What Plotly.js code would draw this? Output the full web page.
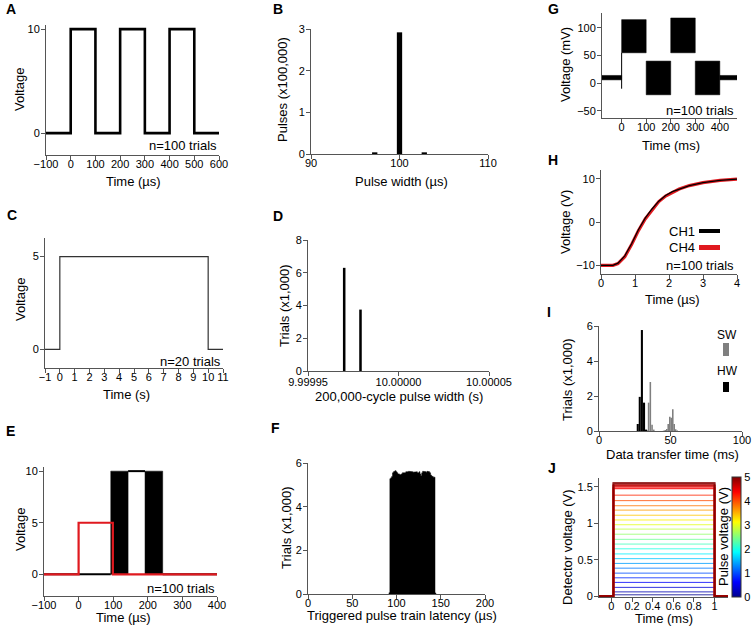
<!DOCTYPE html>
<html>
<head>
<meta charset="utf-8">
<script src="https://cdn.plot.ly/plotly-3.0.1.min.js"></script>
<style>
  html, body { margin: 0; padding: 0; background: #fff; }
  #fig { width: 756px; height: 627px; }
</style>
</head>
<body>
<div id="fig"></div>
<script>
// -- Data ---------------------------------------------------------------------

// A: 3-pulse train, 100 trials overlaid
var A_TIME = [-100, 0, 0, 100, 100, 200, 200, 300, 300, 400, 400, 500, 500, 600];
var A_VOLT = [0, 0, 10, 10, 0, 0, 10, 10, 0, 0, 10, 10, 0, 0];

// B: pulse width histogram
var B_WIDTH_US = [97.2, 100, 102.8];
var B_PULSES = [0.04, 2.92, 0.04];

// C: 10 s pulse, 20 trials
var C_TIME = [-1, 0, 0, 10, 10, 11];
var C_VOLT = [0, 0, 5, 5, 0, 0];

// D: 200,000-cycle pulse width
var D_WIDTH_S = [9.99997, 9.999979];
var D_TRIALS = [6.3, 3.75];

// E: trigger (red) and triggered output (black)
var E_TRIG_TIME = [-100, 0, 0, 99, 99, 400];
var E_TRIG_VOLT = [0, 0, 5, 5, 0, 0];
var E_OUT_RISE = [93, 143];   // earliest / latest rising edge over trials
var E_OUT_FALL = [192, 243];  // earliest / latest falling edge
var E_OUT_HIGH = 10;

// F: triggered pulse train latency histogram (1 µs bins)
var F_LATENCY = [92, 93, 94, 95, 96, 97, 98, 99, 100, 101, 102, 103, 104, 105, 106, 107, 108,
  109, 110, 111, 112, 113, 114, 115, 116, 117, 118, 119, 120, 121, 122, 123, 124, 125, 126,
  127, 128, 129, 130, 131, 132, 133, 134, 135, 136, 137, 138, 139, 140, 141, 142, 143, 144];
var F_TRIALS = [0.06, 5.28, 5.32, 5.38, 5.55, 5.6, 5.62, 5.65, 5.6, 5.55, 5.5, 5.5, 5.45,
  5.48, 5.5, 5.55, 5.55, 5.58, 5.55, 5.6, 5.58, 5.6, 5.62, 5.6, 5.6, 5.62, 5.6, 5.58, 5.6,
  5.6, 5.58, 5.6, 5.55, 5.55, 5.6, 5.5, 5.42, 5.55, 5.62, 5.6, 5.62, 5.6, 5.58, 5.62, 5.6,
  5.6, 5.55, 5.45, 5.4, 5.38, 5.35, 5.35, 0.05];
var F_BIN = 1;

// G: noisy analog output, envelope per segment (mV)
var G_SEG_START = [-80, 0, 100, 200, 300, 400];
var G_SEG_END = [0, 100, 200, 300, 400, 470];
var G_SEG_LOW = [6, 55, -21, 55, -21, 6];
var G_SEG_HIGH = [14, 115, 40, 118, 40, 14];
var G_ONSET_DIP = -10;

// H: rise of two channels
var H_TIME = [0, 0.35, 0.5, 0.7, 0.9, 1.1, 1.3, 1.5, 1.7, 1.9, 2.1, 2.3, 2.6, 3.0, 3.5, 4.0];
var H_CH1 = [-10, -10, -9.5, -7.8, -5.0, -1.8, 0.9, 3.0, 4.8, 6.1, 7.0, 7.6, 8.4, 9.1, 9.6, 9.9];
var H_CH4 = [-10, -10, -9.6, -8.0, -5.2, -2.0, 0.7, 2.8, 4.7, 6.0, 6.9, 7.6, 8.4, 9.1, 9.6, 9.9];

// I: data transfer time histograms
var I_HW_TIME = [27.1, 28.5, 30.0, 31.5, 32.9];
var I_HW_TRIALS = [0.4, 1.95, 5.77, 1.62, 0.08];
var I_SW_TIME = [33.5, 34.7, 35.9, 37.1, 38.3, 45.2, 46.3, 47.4, 48.4, 49.5, 50.5, 51.6, 52.6, 53.6, 54.7];
var I_SW_TRIALS = [0.05, 1.62, 2.8, 0.35, 0.08, 0.02, 0.05, 0.12, 0.4, 0.82, 0.75, 1.24, 0.4, 0.1, 0.03];

// J: detector voltage per pulse voltage
var J_PULSE_V = [0, 0.2, 0.4, 0.6, 0.8, 1.0, 1.2, 1.4, 1.6, 1.8, 2.0, 2.2, 2.4, 2.6, 2.8,
  3.0, 3.2, 3.4, 3.6, 3.8, 4.0, 4.2, 4.4, 4.6, 4.8, 5.0];
var J_DETECTOR_V = [0.02, 0.06, 0.122, 0.19, 0.253, 0.317, 0.385, 0.45, 0.515, 0.58, 0.65,
  0.715, 0.78, 0.85, 0.92, 0.98, 1.045, 1.11, 1.18, 1.24, 1.31, 1.385, 1.48, 1.51, 1.53, 1.55];
var J_TIME_SPAN = [-0.12, 1.13];
var J_ON = 0.02, J_OFF = 1.0;

// -- Layout helpers -----------------------------------------------------------
var FONT = 'Liberation Sans, Arial, Helvetica, sans-serif';
var W = 756, H = 627;
var AXIS_COLOR = '#555';

function px(x) { return x / W; }
function py(y) { return 1 - y / H; }

// plot boxes in pixels: [left, right, top, bottom]
var BOX = {
  A: [46, 219, 25, 155],
  B: [311, 488, 29, 154],
  C: [45, 223, 238, 368],
  D: [308, 489, 240, 371],
  E: [44, 217, 467, 596],
  F: [308, 485, 463, 594],
  G: [602, 737, 13, 118],
  H: [601, 737, 170, 274],
  I: [599, 742, 326, 431],
  J: [599, 728, 478, 597]
};

var layout = {
  width: W, height: H,
  margin: { l: 0, r: 0, t: 0, b: 0 },
  paper_bgcolor: '#fff',
  plot_bgcolor: 'rgba(0,0,0,0)',
  font: { family: FONT, size: 11, color: '#000' },
  showlegend: false,
  barmode: 'overlay',
  annotations: [],
  shapes: []
};

function baseAxis() {
  return {
    showline: true, linecolor: AXIS_COLOR, linewidth: 1,
    ticks: 'outside', ticklen: 4, tickwidth: 1, tickcolor: AXIS_COLOR,
    showgrid: false, zeroline: false, fixedrange: true,
    tickfont: { size: 11, color: '#000', family: FONT },
    tickmode: 'array'
  };
}

var panelIndex = {};
function addAxes(name, n, xr, yr, xticks, yticks, xtext, ytext) {
  var b = BOX[name];
  var sfx = n === 1 ? '' : String(n);
  var xa = baseAxis(), ya = baseAxis();
  xa.domain = [px(b[0]), px(b[1])];
  xa.range = xr;
  xa.anchor = 'y' + sfx;
  xa.tickvals = xticks;
  xa.ticklabelstandoff = -5;   // labels sit tight under the ticks in the reference
  if (xtext) xa.ticktext = xtext;
  ya.domain = [py(b[3]), py(b[2])];
  ya.range = yr;
  ya.anchor = 'x' + sfx;
  ya.tickvals = yticks;
  ya.ticklabelstandoff = -1;
  if (ytext) ya.ticktext = ytext;
  layout['xaxis' + sfx] = xa;
  layout['yaxis' + sfx] = ya;
  panelIndex[name] = { x: 'x' + sfx, y: 'y' + sfx };
  return xa;
}

function note(x, y, s, opt) {
  var a = {
    xref: 'paper', yref: 'paper', x: px(x), y: py(y), text: s, showarrow: false,
    xanchor: 'center', yanchor: 'middle',
    font: { size: 13, family: FONT, color: '#000' }
  };
  for (var k in (opt || {})) a[k] = opt[k];
  layout.annotations.push(a);
}
function letter(x, y, s) { note(x, y, '<b>' + s + '</b>', { xanchor: 'left', font: { size: 14, family: FONT, color: '#000' } }); }
function ytitle(x, y, s) { note(x, y, s, { textangle: -90 }); }

function line(panel, xs, ys, color, width, opacity) {
  return {
    type: 'scatter', mode: 'lines', x: xs, y: ys,
    xaxis: panelIndex[panel].x, yaxis: panelIndex[panel].y,
    line: { color: color, width: width }, opacity: opacity || 1, hoverinfo: 'skip'
  };
}
function poly(panel, xs, ys, color) {
  return {
    type: 'scatter', mode: 'lines', x: xs, y: ys, fill: 'toself', fillcolor: color,
    xaxis: panelIndex[panel].x, yaxis: panelIndex[panel].y,
    line: { color: color, width: 0.5 }, hoverinfo: 'skip'
  };
}
function bars(panel, xs, ys, color, width) {
  return {
    type: 'bar', x: xs, y: ys, width: width,
    xaxis: panelIndex[panel].x, yaxis: panelIndex[panel].y,
    marker: { color: color, line: { width: 0 } }, hoverinfo: 'skip'
  };
}
// filled histogram outline, avoids hairline seams between adjacent bars
function stepFill(panel, centers, counts, bin, color) {
  var xs = [centers[0] - bin / 2], ys = [0];
  for (var i = 0; i < centers.length; i++) {
    xs.push(centers[i] - bin / 2, centers[i] + bin / 2);
    ys.push(counts[i], counts[i]);
  }
  xs.push(centers[centers.length - 1] + bin / 2);
  ys.push(0);
  return poly(panel, xs, ys, color);
}

// jet colormap, matching the colorbar in panel J
var JET = [[0, '#00008f'], [0.125, '#0000ff'], [0.375, '#00ffff'], [0.625, '#ffff00'], [0.875, '#ff0000'], [1, '#800000']];
function hexRgb(h) { return [parseInt(h.substr(1, 2), 16), parseInt(h.substr(3, 2), 16), parseInt(h.substr(5, 2), 16)]; }
function jetColor(t) {
  for (var i = 1; i < JET.length; i++) {
    if (t <= JET[i][0]) {
      var a = hexRgb(JET[i - 1][1]), b = hexRgb(JET[i][1]);
      var f = (t - JET[i - 1][0]) / (JET[i][0] - JET[i - 1][0]);
      return 'rgb(' + [0, 1, 2].map(function (k) { return Math.round(a[k] + (b[k] - a[k]) * f); }).join(',') + ')';
    }
  }
  return JET[JET.length - 1][1];
}

// -- Axes ---------------------------------------------------------------------
addAxes('A', 1, [-100, 600], [-2.1, 10.4], [-100, 0, 100, 200, 300, 400, 500, 600], [0, 10]);
addAxes('B', 2, [90, 110], [0, 3], [90, 100, 110], [0, 1, 2, 3]);
addAxes('C', 3, [-1, 11], [-1, 6], [-1, 0, 1, 2, 3, 4, 5, 6, 7, 8, 9, 10, 11], [0, 5]);
var dAxis = addAxes('D', 4, [9.99995, 10.00005], [0, 8], [9.99995, 10.0, 10.00005], [0, 2, 4, 6, 8],
  ['9.99995', '10.00000', '10.00005']);
dAxis.ticklabelstandoff = -3;  // keeps '9.99995' clear of the y '0'
addAxes('E', 5, [-100, 400], [-2.1, 10.4], [-100, 0, 100, 200, 300, 400], [0, 5, 10]);
addAxes('F', 6, [0, 200], [0, 6], [0, 50, 100, 150, 200], [0, 2, 4, 6]);
addAxes('G', 7, [-80, 470], [-63, 127], [0, 100, 200, 300, 400], [-50, 0, 50, 100]);
addAxes('H', 8, [0, 4], [-12, 12], [0, 1, 2, 3, 4], [-10, 0, 10]);
addAxes('I', 9, [0, 100], [0, 6], [0, 50, 100], [0, 2, 4, 6]);
addAxes('J', 10, J_TIME_SPAN, [-0.01, 1.62], [0, 0.2, 0.4, 0.6, 0.8, 1], [0, 0.5, 1, 1.5]);

// -- Traces -------------------------------------------------------------------
var traces = [];

// A
traces.push(line('A', A_TIME, A_VOLT, '#000', 2.6));

// B
traces.push(bars('B', B_WIDTH_US, B_PULSES, '#000', 0.6));

// C
traces.push(line('C', C_TIME, C_VOLT, '#333', 1.2));

// D
traces.push(bars('D', D_WIDTH_S, D_TRIALS, '#000', 0.0000014));

// E: black output band (jittered latency), red trigger on top
var eLo = E_OUT_RISE[0], eHi = E_OUT_RISE[1], fLo = E_OUT_FALL[0], fHi = E_OUT_FALL[1];
traces.push(line('E', [-100, eLo], [0, 0], '#000', 2));
traces.push(poly('E', [eLo, eHi, eHi, eLo, eLo], [0, 0, E_OUT_HIGH, E_OUT_HIGH, 0], '#000'));
traces.push(poly('E', [fLo, fHi, fHi, fLo, fLo], [0, 0, E_OUT_HIGH, E_OUT_HIGH, 0], '#000'));
traces.push(line('E', [eHi, fLo], [E_OUT_HIGH, E_OUT_HIGH], '#000', 2));
traces.push(line('E', [fHi, 400], [0, 0], '#000', 2));
traces.push(line('E', E_TRIG_TIME, E_TRIG_VOLT, '#e0191f', 2.2));

// F
traces.push(stepFill('F', F_LATENCY, F_TRIALS, F_BIN, '#000'));

// G: noise envelope for each segment, plus the onset dip
for (var g = 0; g < G_SEG_START.length; g++) {
  var s = G_SEG_START[g], e = G_SEG_END[g];
  traces.push(poly('G', [s, e, e, s, s],
    [G_SEG_LOW[g], G_SEG_LOW[g], G_SEG_HIGH[g], G_SEG_HIGH[g], G_SEG_LOW[g]], '#000'));
}
traces.push(line('G', [G_SEG_END[0], G_SEG_END[0]], [G_ONSET_DIP, G_SEG_LOW[1]], '#000', 1));

// H
traces.push(line('H', H_TIME, H_CH4, '#e0191f', 3.2));
traces.push(line('H', H_TIME, H_CH1, '#000', 1.2));

// I
traces.push(bars('I', I_SW_TIME, I_SW_TRIALS, '#7f7f7f', 1.1));
traces.push(bars('I', I_HW_TIME, I_HW_TRIALS, '#000', 1.45));

// J: one trace per pulse voltage, low to high so the red ones sit on top
for (var j = 0; j < J_PULSE_V.length; j++) {
  var lv = J_DETECTOR_V[j];
  var col = jetColor(J_PULSE_V[j] / 5);
  traces.push(line('J',
    [J_TIME_SPAN[0], J_ON, J_ON, J_OFF, J_OFF, J_TIME_SPAN[1]],
    [0, 0, lv, lv, 0, 0], col, j >= 22 ? 2 : 1, 0.8));
}
// colorbar carrier (point sits outside the visible range)
traces.push({
  type: 'scatter', mode: 'markers', x: [0], y: [-5],
  xaxis: panelIndex.J.x, yaxis: panelIndex.J.y, hoverinfo: 'skip',
  marker: {
    color: [0], cmin: 0, cmax: 5, size: 1,
    colorscale: JET, showscale: true,
    colorbar: {
      x: px(732), xanchor: 'left', y: py(597), yanchor: 'bottom',
      len: (597 - 477) / H, lenmode: 'fraction',
      thickness: 9, thicknessmode: 'pixels',
      xpad: 0, ypad: 0, outlinewidth: 1, outlinecolor: '#333',
      tickmode: 'array', tickvals: [0, 1, 2, 3, 4, 5], ticks: '',
      tickfont: { size: 11, family: FONT, color: '#000' }
    }
  }
});

// -- Text ---------------------------------------------------------------------
letter(4, 9, 'A'); letter(271, 9, 'B');
letter(5, 215, 'C'); letter(271, 216, 'D');
letter(4, 431, 'E'); letter(269, 428, 'F');
letter(546, 9, 'G'); letter(546, 160, 'H');
letter(545, 312, 'I'); letter(546, 468, 'J');

// A
ytitle(20, 90, 'Voltage'); note(133, 181, 'Time (µs)');
note(219, 145, 'n=100 trials', { xanchor: 'right' });
// B
ytitle(283, 90, 'Pulses (x100,000)'); note(401, 181, 'Pulse width (µs)');
// C
ytitle(20, 300, 'Voltage'); note(126, 394, 'Time (s)');
note(223, 361, 'n=20 trials', { xanchor: 'right' });
// D
ytitle(284, 306, 'Trials (x1,000)'); note(399, 396, '200,000-cycle pulse width (s)');
// E
ytitle(20, 530, 'Voltage'); note(123, 617, 'Time (µs)');
note(217, 588, 'n=100 trials', { xanchor: 'right' });
// F
ytitle(286, 528, 'Trials (x1,000)'); note(402, 615, 'Triggered pulse train latency (µs)');
// G
ytitle(565, 65, 'Voltage (mV)'); note(671, 145, 'Time (ms)');
note(736, 110, 'n=100 trials', { xanchor: 'right' });
// H
ytitle(565, 222, 'Voltage (V)'); note(672, 299, 'Time (µs)');
note(682, 231, 'CH1'); note(682, 247, 'CH4');
note(736, 265, 'n=100 trials', { xanchor: 'right' });
layout.shapes.push({ type: 'rect', xref: 'paper', yref: 'paper', x0: px(699), x1: px(720), y0: py(233), y1: py(229), fillcolor: '#000', line: { width: 0 } });
layout.shapes.push({ type: 'rect', xref: 'paper', yref: 'paper', x0: px(699), x1: px(720), y0: py(250), y1: py(245), fillcolor: '#e0191f', line: { width: 0 } });
// I
ytitle(567, 380, 'Trials (x1,000)'); note(672, 454, 'Data transfer time (ms)');
note(727, 335, 'SW', { font: { size: 12, family: FONT, color: '#000' } });
note(727, 371, 'HW', { font: { size: 12, family: FONT, color: '#000' } });
layout.shapes.push({ type: 'rect', xref: 'paper', yref: 'paper', x0: px(723), x1: px(729), y0: py(356), y1: py(343), fillcolor: '#7f7f7f', line: { width: 0 } });
layout.shapes.push({ type: 'rect', xref: 'paper', yref: 'paper', x0: px(723), x1: px(729), y0: py(392), y1: py(382), fillcolor: '#000', line: { width: 0 } });
// J
ytitle(567, 547, 'Detector voltage (V)'); note(664, 618, 'Time (ms)');
ytitle(723, 537, 'Pulse voltage (V)');

Plotly.newPlot('fig', traces, layout, { staticPlot: true, displayModeBar: false });
</script>
</body>
</html>
